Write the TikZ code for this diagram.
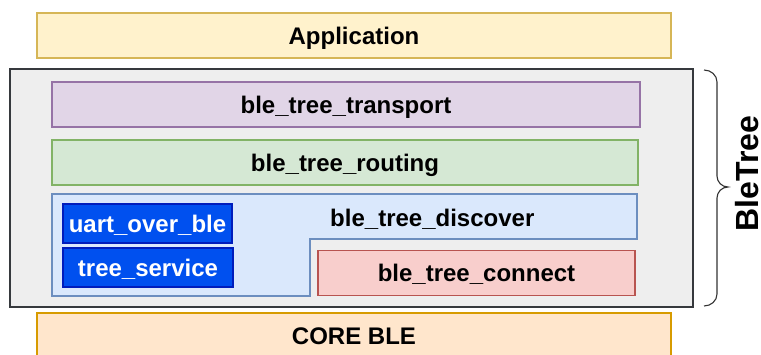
\documentclass[tikz,border=0pt]{standalone}
\usepackage{fontspec}
\setmainfont{Liberation Sans}
\definecolor{appF}{HTML}{FFF2CC}\definecolor{appD}{HTML}{D6B656}
\definecolor{outF}{HTML}{EEEEEE}\definecolor{outD}{HTML}{36393D}
\definecolor{trF}{HTML}{E1D5E7}\definecolor{trD}{HTML}{9673A6}
\definecolor{roF}{HTML}{D5E8D4}\definecolor{roD}{HTML}{82B366}
\definecolor{diF}{HTML}{DAE8FC}\definecolor{diD}{HTML}{6C8EBF}
\definecolor{coF}{HTML}{F8CECC}\definecolor{coD}{HTML}{B85450}
\definecolor{blF}{HTML}{0050EF}\definecolor{blD}{HTML}{001DBC}
\definecolor{crF}{HTML}{FFE6CC}\definecolor{crD}{HTML}{D79B00}
\begin{document}
\begin{tikzpicture}[x=1pt,y=-1pt,
  layer/.style={draw, line width=1.1pt, inner sep=0pt, text height=17pt, text depth=0pt, font=\fontsize{24}{28}\selectfont\bfseries},
  lbl/.style={inner sep=0pt, anchor=base, font=\fontsize{24}{28}\selectfont\bfseries}]
\useasboundingbox (0,0) rectangle (761,354);
% Application
\node[layer, fill=appF, draw=appD, minimum width=634pt, minimum height=45pt] (app) at (354,35.5) {Application};
% outer BleTree container
\node[draw=outD, fill=outF, line width=1.3pt, minimum width=683pt, minimum height=238pt, inner sep=0pt] (outer) at (351.5,188) {};
% transport
\node[layer, fill=trF, draw=trD, minimum width=588pt, minimum height=45pt] (trans) at (346,104.5) {ble\_tree\_transport};
% routing
\node[layer, fill=roF, draw=roD, minimum width=586pt, minimum height=45pt] (rout) at (345,162.5) {ble\_tree\_routing};
% discover L-shape
\draw[fill=diF, draw=diD, line width=1.1pt] (52,194) -- (637,194) -- (637,239) -- (310,239) -- (310,296) -- (52,296) -- cycle;
\node[lbl] (disc) at (432.3,226.7) {ble\_tree\_discover};
% connect
\node[layer, fill=coF, draw=coD, minimum width=317pt, minimum height=45pt] (conn) at (476.5,273.3) {ble\_tree\_connect};
% uart_over_ble and tree_service
\node[layer, fill=blF, draw=blD, text=white, minimum width=169pt, minimum height=39pt] (uart) at (147.5,223.5) {uart\_over\_ble};
\node[layer, fill=blF, draw=blD, text=white, minimum width=170pt, minimum height=39pt] (svc) at (148,267.5) {tree\_service};
% CORE BLE
\node[draw=crD, fill=crF, line width=1.1pt, inner sep=0pt, minimum width=634pt, minimum height=50pt] (core) at (354,338) {};
\node[lbl] (coret) at (354,344) {CORE BLE};
% brace
\draw[line width=1.1pt, draw=black!80] (704,70) to[out=0,in=90] (717,82) -- (717,176) to[out=-90,in=180] (728,187)
  to[out=180,in=90] (717,198) -- (717,294) to[out=-90,in=0] (704,306);
\node[rotate=90, inner sep=0pt, font=\fontsize{32}{38}\selectfont\bfseries] (bt) at (747,173.5) {BleTree};
\end{tikzpicture}
\end{document}
